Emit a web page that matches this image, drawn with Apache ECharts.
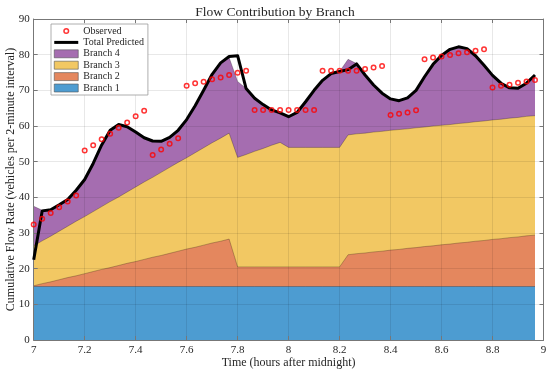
<!DOCTYPE html>
<html>
<head>
<meta charset="utf-8">
<script src="https://cdn.jsdelivr.net/npm/echarts@6/dist/echarts.min.js"></script>
<style>
html,body{margin:0;padding:0;background:#fff;}
#chart{width:550px;height:375px;}
</style>
</head>
<body>
<div id="chart"></div>
<script>
// minutes after 7:00 (2-minute intervals)
const minutesAfter7 = [0,2,4,6,8,10,12,14,16,18,20,22,24,26,28,30,32,34,36,38,40,42,44,46,48,50,52,54,56,58,60,62,64,66,68,70,72,74,76,78,80,82,84,86,88,90,92,94,96,98,100,102,104,106,108,110,112,114,116,118];

const branch1 = [15,15,15,15,15,15,15,15,15,15,15,15,15,15,15,15,15,15,15,15,15,15,15,15,15,15,15,15,15,15,15,15,15,15,15,15,15,15,15,15,15,15,15,15,15,15,15,15,15,15,15,15,15,15,15,15,15,15,15,15];
const branch2 = [0.2,0.8,1.3,1.9,2.5,3.0,3.6,4.2,4.8,5.3,5.9,6.5,7.0,7.6,8.2,8.7,9.3,9.9,10.5,11.0,11.6,12.2,12.7,13.3,
  5.5,5.5,5.5,5.5,5.5,5.5,5.5,5.5,5.5,5.5,5.5,5.5,5.5,
  8.9,9.2,9.4,9.7,9.9,10.2,10.4,10.7,10.9,11.2,11.4,11.7,11.9,12.2,12.4,12.7,12.9,13.2,13.4,13.7,13.9,14.2,14.4];
const branch3 = [11.2,12.0,12.8,13.6,14.4,15.3,16.0,16.8,17.6,18.5,19.2,20.0,20.9,21.7,22.4,23.3,24.1,24.9,25.6,26.5,27.3,28.1,28.9,29.7,
  30.7,31.5,32.4,33.2,34.1,34.9,33.5,33.5,33.5,33.5,33.5,33.5,33.5,
  33.6,33.6,33.6,33.6,33.6,33.6,33.6,33.5,33.6,33.5,33.6,33.5,33.5,33.5,33.5,33.5,33.5,33.5,33.5,33.5,33.5,33.5,33.5];
const branch4 = [11.1,8.6,7.4,7.4,7.5,8.7,10.4,13.5,17.3,20.0,20.3,18.3,15.4,12.4,10.2,8.7,8.4,9.0,10.7,13.2,16.1,19.2,21.1,21.2,
  21.3,18.5,14.9,12.3,9.9,8.3,8.6,9.8,12.8,16.0,18.8,20.7,21.3,
  21.2,19.7,16.3,13.3,10.7,8.9,8.1,8.7,10.5,14.1,17.3,19.6,21.1,21.5,20.8,18.5,15.6,12.5,10.1,8.5,8.2,9.3,11.4];
const totalPredicted = [22.5,36.2,36.5,37.9,39.4,42.0,45.0,49.5,54.7,58.8,60.4,59.8,58.3,56.7,55.8,55.7,56.8,58.8,61.8,65.7,70.0,74.5,77.7,79.5,
  79.7,70.5,67.8,66.0,64.5,63.7,62.6,63.8,66.8,70.0,72.8,74.7,75.3,
  75.8,77.4,74.3,71.5,69.2,67.6,67.1,67.9,70.0,73.8,77.3,79.8,81.5,82.2,81.7,79.7,77.0,74.2,72.0,70.7,70.6,72.0,74.3];
const observed = [32.4,34.0,35.6,37.2,38.8,40.5,53.1,54.6,56.3,57.8,59.5,61.0,62.7,64.3,51.9,53.4,55.0,56.6,
  71.3,72.0,72.4,73.1,73.6,74.3,74.9,75.5,
  64.5,64.5,64.5,64.5,64.5,64.5,64.5,64.5,
  75.5,75.5,75.5,75.5,75.5,76.0,76.4,76.8,
  63.1,63.4,63.8,64.4,
  78.7,79.2,79.5,79.9,80.4,80.7,81.1,81.5,
  70.8,71.3,71.6,72.1,72.5,72.9];

const hours = minutesAfter7.map(m => 7 + m / 60);
const pair = arr => arr.map((v, i) => [hours[i], v]);

// cumulative stack tops (bottom-up)
const branches = [branch1, branch2, branch3, branch4];
const tops = [];
let running = branch1.map(() => 0);
branches.forEach(b => { running = running.map((r, i) => +(r + b[i]).toFixed(2)); tops.push(running); });

const FONT = 'Liberation Serif';
const TXT = '#262626';
const AX = '#777';

const branchNames = ['Branch 1', 'Branch 2', 'Branch 3', 'Branch 4'];
const branchColors = {
  'Branch 1': '#4d9cd1',
  'Branch 2': '#e4875e',
  'Branch 3': '#f2c863',
  'Branch 4': '#a56db0'
};

function areaSeries(idx) {
  const name = branchNames[idx];
  return {
    name: name, type: 'line', data: pair(tops[idx]),
    symbol: 'none', showSymbol: false, z: 2,
    color: branchColors[name],
    lineStyle: { width: 0.7, color: 'rgba(0,0,0,0.35)' },
    areaStyle: { color: branchColors[name], opacity: 1, origin: 'start' },
    itemStyle: { color: branchColors[name] },
    emphasis: { disabled: true }
  };
}

const chart = echarts.init(document.getElementById('chart'), null, { renderer: 'canvas' });
chart.setOption({
  animation: false,
  backgroundColor: '#fff',
  title: {
    text: 'Flow Contribution by Branch', left: 'center', top: 0,
    textStyle: { fontFamily: FONT, fontSize: 13.5, fontWeight: 'normal', color: TXT }
  },
  grid: { left: 33.7, right: 6.5, top: 19, bottom: 35, containLabel: false, outerBoundsMode: 'none' },
  legend: {
    orient: 'vertical', left: 51, top: 24,
    padding: [1.5, 4, 1.5, 2.5],
    itemWidth: 24, itemHeight: 8, itemGap: 0.4,
    backgroundColor: '#fff', borderColor: '#999', borderWidth: 0.8,
    textStyle: { fontFamily: FONT, fontSize: 10, lineHeight: 11, color: TXT },
    data: [
      { name: 'Observed', icon: 'path://M0,0 M24,8 M14.3,4 A2.3,2.3 0 1 1 9.7,4 A2.3,2.3 0 1 1 14.3,4 Z', itemStyle: { color: 'rgba(255,255,255,0)', borderColor: '#ff0000', borderWidth: 1.5 } },
      { name: 'Total Predicted', icon: 'path://M0,0 L24,0 L24,3 L0,3 Z', itemStyle: { color: '#000', borderWidth: 0 } },
      { name: 'Branch 4', icon: 'rect', itemStyle: { color: branchColors['Branch 4'], borderColor: '#555', borderWidth: 0.6 } },
      { name: 'Branch 3', icon: 'rect', itemStyle: { color: branchColors['Branch 3'], borderColor: '#555', borderWidth: 0.6 } },
      { name: 'Branch 2', icon: 'rect', itemStyle: { color: branchColors['Branch 2'], borderColor: '#555', borderWidth: 0.6 } },
      { name: 'Branch 1', icon: 'rect', itemStyle: { color: branchColors['Branch 1'], borderColor: '#555', borderWidth: 0.6 } }
    ]
  },
  xAxis: [{
    type: 'value', min: 7, max: 9, interval: 0.2, z: 3,
    name: 'Time (hours after midnight)', nameLocation: 'middle', nameGap: 17, nameMoveOverlap: false,
    nameTextStyle: { fontFamily: FONT, fontSize: 12, color: TXT },
    axisLine: { show: true, onZero: false, lineStyle: { color: AX, width: 1 } },
    axisTick: { show: true, inside: true, length: 4, lineStyle: { color: AX } },
    axisLabel: { fontFamily: FONT, fontSize: 11, color: TXT, margin: 5 },
    splitLine: { show: true, lineStyle: { color: 'rgba(0,0,0,0.09)', width: 1 } }
  }, {
    type: 'value', min: 7, max: 9, interval: 0.2, position: 'top', z: 3,
    axisLine: { show: true, onZero: false, lineStyle: { color: AX, width: 1 } },
    axisTick: { show: true, inside: true, length: 4, lineStyle: { color: AX } },
    axisLabel: { show: false }, splitLine: { show: false }
  }],
  yAxis: [{
    type: 'value', min: 0, max: 90, interval: 10, z: 3,
    name: 'Cumulative Flow Rate (vehicles per 2-minute interval)', nameLocation: 'middle', nameGap: 17, nameMoveOverlap: false,
    nameTextStyle: { fontFamily: FONT, fontSize: 12, color: TXT },
    axisLine: { show: true, onZero: false, lineStyle: { color: AX, width: 1 } },
    axisTick: { show: true, inside: true, length: 4, lineStyle: { color: AX } },
    axisLabel: { fontFamily: FONT, fontSize: 11, color: TXT, margin: 4 },
    splitLine: { show: true, lineStyle: { color: 'rgba(0,0,0,0.09)', width: 1 } }
  }, {
    type: 'value', min: 0, max: 90, interval: 10, position: 'right', z: 3,
    axisLine: { show: true, onZero: false, lineStyle: { color: AX, width: 1 } },
    axisTick: { show: true, inside: true, length: 4, lineStyle: { color: AX } },
    axisLabel: { show: false }, splitLine: { show: false }
  }],
  series: [
    areaSeries(3),
    areaSeries(2),
    areaSeries(1),
    areaSeries(0),
    {
      name: 'Total Predicted', type: 'line', data: pair(totalPredicted),
      symbol: 'none', showSymbol: false, z: 5, color: '#000',
      lineStyle: { color: '#000', width: 3, join: 'round' },
      itemStyle: { color: '#000' }, emphasis: { disabled: true }
    },
    {
      name: 'Observed', type: 'scatter', data: pair(observed),
      symbol: 'circle', symbolSize: 4.5, z: 6, color: '#ff0000',
      itemStyle: { color: 'rgba(255,255,255,0)', borderColor: '#ff0000', borderWidth: 1.5 },
      emphasis: { disabled: true }
    }
  ]
});
</script>
</body>
</html>
